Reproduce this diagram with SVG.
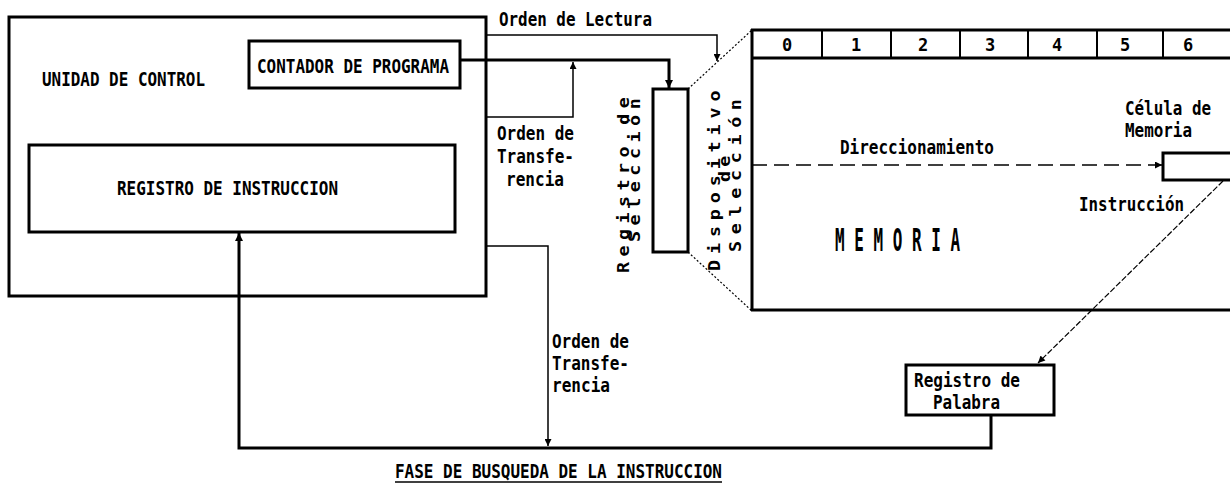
<svg xmlns="http://www.w3.org/2000/svg" width="1230" height="494" viewBox="0 0 1230 494">
<defs>
<style>
.t{font-family:"DejaVu Sans Mono","Liberation Mono",monospace;font-size:19px;font-weight:bold;fill:#000}
.v{font-family:"DejaVu Sans Mono","Liberation Mono",monospace;font-size:16px;font-weight:bold;fill:#000}
.box{fill:#fff;stroke:#000;stroke-width:3}
.thin{fill:none;stroke:#000;stroke-width:1.5}
.thick{fill:none;stroke:#000;stroke-width:3}
.dot{fill:none;stroke:#000;stroke-width:1.2;stroke-dasharray:2,2}
</style>
<marker id="ah" viewBox="0 0 10 10" refX="10" refY="5" markerWidth="9" markerHeight="7" markerUnits="userSpaceOnUse" orient="auto">
<path d="M0,0 L10,5 L0,10 Z" fill="#000"/>
</marker>
<marker id="ahb" viewBox="0 0 10 10" refX="10" refY="5" markerWidth="10" markerHeight="8" markerUnits="userSpaceOnUse" orient="auto">
<path d="M0,0 L10,5 L0,10 Z" fill="#000"/>
</marker>
</defs>
<rect width="1230" height="494" fill="#fff"/>

<g id="unidad-control">
<rect class="box" x="9" y="17" width="477" height="279"/>
<text class="t" x="42" y="86" textLength="163" lengthAdjust="spacingAndGlyphs">UNIDAD DE CONTROL</text>
</g>
<g id="contador-programa">
<rect class="box" x="249" y="41" width="211" height="47"/>
<text class="t" x="257" y="73" textLength="192" lengthAdjust="spacingAndGlyphs">CONTADOR DE PROGRAMA</text>
</g>
<g id="registro-instruccion">
<rect class="box" x="29" y="145" width="426" height="87"/>
<text class="t" x="117" y="195" textLength="221" lengthAdjust="spacingAndGlyphs">REGISTRO DE INSTRUCCION</text>
</g>

<g id="registro-seleccion">
<rect class="box" x="653" y="89" width="35" height="163"/>
<text class="v" transform="translate(629,273) rotate(-90) scale(1.15,1)" textLength="153">Registro de</text>
<text class="v" transform="translate(640,242) rotate(-90) scale(1.15,1)" textLength="125">Selección</text>
</g>

<g id="dispositivo-seleccion">
<line class="dot" x1="688" y1="89" x2="752" y2="30"/>
<line class="dot" x1="688" y1="252" x2="752" y2="311"/>
<text class="v" transform="translate(720,271) rotate(-90) scale(1.15,1)" textLength="157">Dispositivo</text>
<text class="v" transform="translate(730,182) rotate(-90) scale(1.15,1)" textLength="23">de</text>
<text class="v" transform="translate(741,252) rotate(-90) scale(1.15,1)" textLength="133">Selección</text>
</g>

<g id="memoria">
<line class="thick" x1="752" y1="29" x2="752" y2="311"/>
<line class="thick" x1="751" y1="30" x2="1230" y2="30"/>
<line class="thick" x1="751" y1="58" x2="1230" y2="58"/>
<line class="thick" x1="751" y1="310" x2="1230" y2="310"/>
<g stroke="#000" stroke-width="2">
<line x1="822" y1="30" x2="822" y2="58"/>
<line x1="891" y1="30" x2="891" y2="58"/>
<line x1="960" y1="30" x2="960" y2="58"/>
<line x1="1028" y1="30" x2="1028" y2="58"/>
<line x1="1097" y1="30" x2="1097" y2="58"/>
<line x1="1163" y1="30" x2="1163" y2="58"/>
</g>
<g class="t" text-anchor="middle" style="font-size:17px">
<text x="787" y="51">0</text>
<text x="856" y="51">1</text>
<text x="923" y="51">2</text>
<text x="990" y="51">3</text>
<text x="1057" y="51">4</text>
<text x="1125" y="51">5</text>
<text x="1188" y="51">6</text>
</g>
<text class="t" x="835" y="251" style="font-size:32px" textLength="125" lengthAdjust="spacingAndGlyphs">M E M O R I A</text>
</g>

<g id="celula-memoria">
<rect class="box" x="1163" y="153" width="80" height="27"/>
<text class="t" x="1125" y="115" textLength="86" lengthAdjust="spacingAndGlyphs">Célula de</text>
<text class="t" x="1125" y="137" textLength="67" lengthAdjust="spacingAndGlyphs">Memoria</text>
</g>

<g id="registro-palabra">
<rect class="box" x="906" y="365" width="148" height="50"/>
<text class="t" x="914" y="387" textLength="106" lengthAdjust="spacingAndGlyphs">Registro de</text>
<text class="t" x="933" y="409" textLength="67" lengthAdjust="spacingAndGlyphs">Palabra</text>
</g>

<g id="connectors">
<polyline class="thin" points="486,35 717,35 717,61" marker-end="url(#ah)"/>
<polyline class="thick" points="460,60 669,60 669,88" marker-end="url(#ahb)"/>
<polyline class="thin" points="486,117 573,117 573,62" marker-end="url(#ah)"/>
<polyline class="thin" points="486,246 548,246 548,446" marker-end="url(#ah)"/>
<polyline class="thick" points="991,415 991,448 239,448 239,233" marker-end="url(#ahb)"/>
<line x1="752" y1="165" x2="1162" y2="165" stroke="#000" stroke-width="1.5" stroke-dasharray="15,7" marker-end="url(#ah)"/>
<line x1="1223" y1="181" x2="1038" y2="363" stroke="#000" stroke-width="1.2" stroke-dasharray="6,2" marker-end="url(#ah)"/>
</g>

<g id="labels">
<text class="t" x="499" y="26" textLength="153" lengthAdjust="spacingAndGlyphs">Orden de Lectura</text>
<text class="t" x="497" y="140" textLength="77" lengthAdjust="spacingAndGlyphs">Orden de</text>
<text class="t" x="497" y="163" textLength="77" lengthAdjust="spacingAndGlyphs">Transfe-</text>
<text class="t" x="506" y="186" textLength="58" lengthAdjust="spacingAndGlyphs">rencia</text>
<text class="t" x="552" y="348" textLength="77" lengthAdjust="spacingAndGlyphs">Orden de</text>
<text class="t" x="552" y="370" textLength="77" lengthAdjust="spacingAndGlyphs">Transfe-</text>
<text class="t" x="552" y="392" textLength="58" lengthAdjust="spacingAndGlyphs">rencia</text>
<text class="t" x="840" y="154" textLength="154" lengthAdjust="spacingAndGlyphs">Direccionamiento</text>
<text class="t" x="1079" y="211" textLength="105" lengthAdjust="spacingAndGlyphs">Instrucción</text>
</g>

<g id="titulo">
<text class="t" x="395" y="478" textLength="327" lengthAdjust="spacingAndGlyphs">FASE DE BUSQUEDA DE LA INSTRUCCION</text>
<line x1="395" y1="482" x2="722" y2="482" stroke="#000" stroke-width="1.5"/>
</g>
</svg>
